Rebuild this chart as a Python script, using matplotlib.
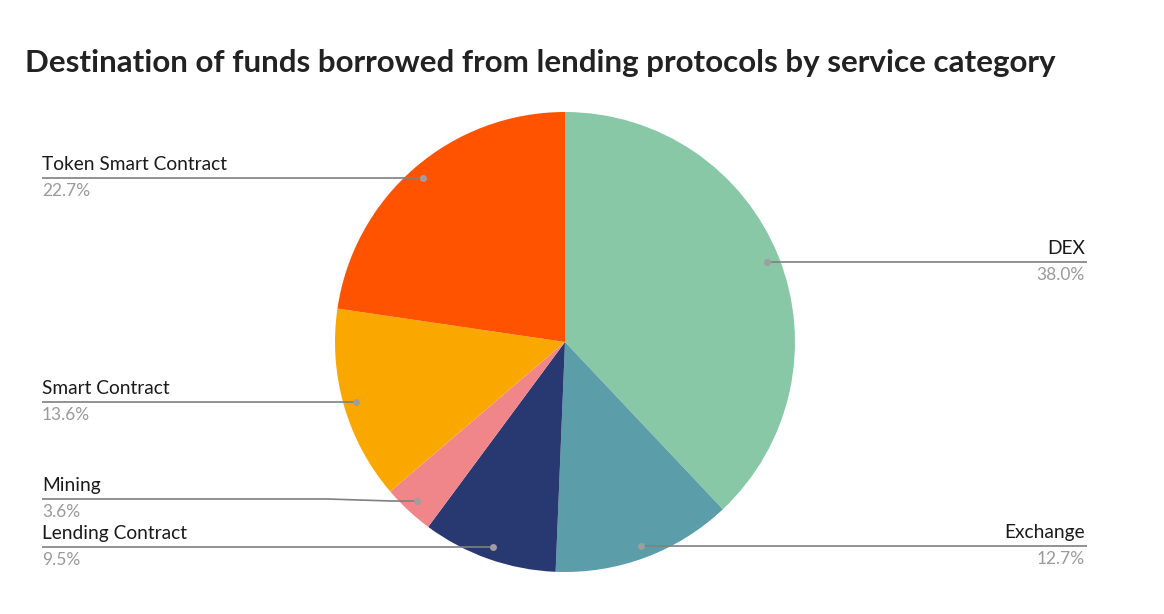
import numpy as np
import matplotlib
matplotlib.use("Agg")
import matplotlib.pyplot as plt

title = "Destination of funds borrowed from lending protocols by service category"
categories = ["DEX", "Exchange", "Lending Contract", "Mining", "Smart Contract", "Token Smart Contract"]
values = [38.0, 12.7, 9.5, 3.6, 13.6, 22.7]
colors = ["#88C8A6", "#5B9DA8", "#283870", "#F0868A", "#FAA800", "#FF5300"]

W, H = 1164, 614
fig = plt.figure(figsize=(W / 100, H / 100), dpi=100)
ax = fig.add_axes([0, 0, 1, 1])
ax.set_xlim(0, W)
ax.set_ylim(0, H)
ax.set_aspect("equal")
ax.axis("off")

cx, cy, R = 565, H - 342, 230
wedges, _ = ax.pie(values, colors=colors, startangle=90, counterclock=False,
                   center=(cx, cy), radius=R, normalize=True,
                   wedgeprops=dict(linewidth=0))
ax.set_xlim(0, W)
ax.set_ylim(0, H)

fig.text(25 / W, 1 - 63 / H, title, fontsize=22.6, fontweight="bold",
         family="Lato", color="#222222", va="center", ha="left")

# dot positions
dots = []
for w in wedges:
    mid = np.deg2rad((w.theta1 + w.theta2) / 2)
    dots.append((cx + 0.945 * R * np.cos(mid), cy + 0.945 * R * np.sin(mid)))

left_x, right_x = 42, 1087
gap = 48
line_y = {}
left = [i for i, (x, y) in enumerate(dots) if x < cx]
right = [i for i, (x, y) in enumerate(dots) if x >= cx]
for group in (left, right):
    order = sorted(group, key=lambda i: dots[i][1])  # bottom first
    prev = None
    for i in order:
        y = dots[i][1]
        if prev is not None and y < prev + gap:
            y = prev + gap
        line_y[i] = y
        prev = y

for i, (dx, dy) in enumerate(dots):
    ly = line_y[i]
    if dx < cx:
        xs = [left_x, dx - 90, dx - 25, dx] if abs(ly - dy) > 0.5 else [left_x, dx]
        ys = [ly, ly, dy, dy] if abs(ly - dy) > 0.5 else [ly, dy]
        tx, ha = left_x, "left"
    else:
        xs = [dx, right_x]
        ys = [dy, ly]
        tx, ha = right_x - 2, "right"
    ax.plot(xs, ys, color="#7f7f7f", lw=1.2, solid_capstyle="butt")
    ax.plot([dx], [dy], "o", color="#9e9e9e", ms=5, mec="none")
    ax.text(tx, ly + 5, categories[i], fontsize=13.8, family="Lato",
            color="#1a1a1a", ha=ha, va="bottom")
    ax.text(tx, ly - 5, f"{values[i]:.1f}%", fontsize=12.5, family="Lato",
            color="#9a9a9a", ha=ha, va="top")

fig.savefig("out.png", dpi=100, facecolor="white")
